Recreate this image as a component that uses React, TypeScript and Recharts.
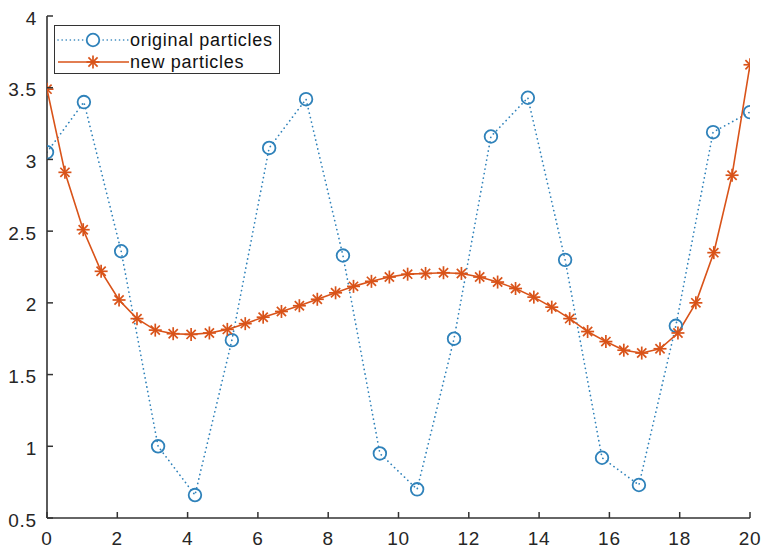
import React from 'react';
import { ComposedChart, Line, XAxis, YAxis, Legend } from 'recharts';

// ---- data ----
const ORIG_X = [0, 1.05, 2.11, 3.16, 4.21, 5.26, 6.32, 7.37, 8.42, 9.47, 10.53, 11.58, 12.63, 13.68, 14.74, 15.79, 16.84, 17.89, 18.95, 20];
const ORIG_Y = [3.05, 3.4, 2.36, 1.0, 0.66, 1.74, 3.08, 3.42, 2.33, 0.95, 0.7, 1.75, 3.16, 3.43, 2.3, 0.92, 0.73, 1.84, 3.19, 3.33];

const NEW_X = [0, 0.51, 1.03, 1.54, 2.05, 2.56, 3.08, 3.59, 4.1, 4.62, 5.13, 5.64, 6.15, 6.67, 7.18, 7.69, 8.21, 8.72, 9.23, 9.74, 10.26, 10.77, 11.28, 11.79, 12.31, 12.82, 13.33, 13.85, 14.36, 14.87, 15.38, 15.9, 16.41, 16.92, 17.44, 17.95, 18.46, 18.97, 19.49, 20];
const NEW_Y = [3.49, 2.91, 2.51, 2.22, 2.02, 1.89, 1.81, 1.785, 1.78, 1.79, 1.815, 1.855, 1.9, 1.94, 1.98, 2.025, 2.07, 2.115, 2.15, 2.18, 2.2, 2.205, 2.21, 2.205, 2.18, 2.145, 2.1, 2.04, 1.97, 1.89, 1.8, 1.73, 1.67, 1.65, 1.68, 1.79, 2.0, 2.35, 2.89, 3.66];

const X_TICKS = [0, 2, 4, 6, 8, 10, 12, 14, 16, 18, 20];
const Y_TICKS = [0.5, 1, 1.5, 2, 2.5, 3, 3.5, 4];
const SERIES_NAMES = ['original particles', 'new particles'];

// ---- styles ----
const BLUE = '#2f82ba';
const ORANGE = '#d95319';
const AXIS = '#333333';
const FONT = '"Liberation Sans", Arial, sans-serif';

const origData = ORIG_X.map((x, i) => ({ x, y: ORIG_Y[i] }));
const newData = NEW_X.map((x, i) => ({ x, y: NEW_Y[i] }));

const CircleDot = (props: any) => {
  const { cx, cy, index } = props;
  if (cx == null || cy == null) return <g key={`oe-${index}`} />;
  return <circle key={`o-${index}`} cx={cx} cy={cy} r={6.3} fill="none" stroke={BLUE} strokeWidth={1.8} />;
};

const starShape = (cx: number, cy: number, s: number, key: string) => {
  const d = s * 0.707;
  return (
    <g key={key} stroke={ORANGE} strokeWidth={1.7}>
      <line x1={cx - s} y1={cy} x2={cx + s} y2={cy} />
      <line x1={cx} y1={cy - s} x2={cx} y2={cy + s} />
      <line x1={cx - d} y1={cy - d} x2={cx + d} y2={cy + d} />
      <line x1={cx - d} y1={cy + d} x2={cx + d} y2={cy - d} />
    </g>
  );
};

const StarDot = (props: any) => {
  const { cx, cy, index } = props;
  if (cx == null || cy == null) return <g key={`se-${index}`} />;
  return starShape(cx, cy, 6.5, `s-${index}`);
};

const BottomTick = (props: any) => {
  const { x, y, payload } = props;
  return (
    <g>
      <line x1={x} x2={x} y1={y} y2={y - 6} stroke={AXIS} strokeWidth={1.5} />
      <text x={x} y={y + 27} textAnchor="middle" fill="#262626" fontSize={19} fontFamily={FONT} letterSpacing={0.8}>
        {payload.value}
      </text>
    </g>
  );
};

const TopTick = (props: any) => {
  const { x, y } = props;
  return <line x1={x} x2={x} y1={y} y2={y + 6} stroke={AXIS} strokeWidth={1.5} />;
};

const LeftTick = (props: any) => {
  const { x, y, payload } = props;
  return (
    <g>
      <line x1={x} x2={x + 6} y1={y} y2={y} stroke={AXIS} strokeWidth={1.5} />
      <text x={x - 10} y={y + 8.5} textAnchor="end" fill="#262626" fontSize={19} fontFamily={FONT} letterSpacing={0.8}>
        {payload.value}
      </text>
    </g>
  );
};

const RightTick = (props: any) => {
  const { x, y } = props;
  return <line x1={x} x2={x - 6} y1={y} y2={y} stroke={AXIS} strokeWidth={1.5} />;
};

const LegendBox = () => (
  <div style={{ width: 226, height: 49, border: `1.5px solid ${AXIS}`, background: '#fff', boxSizing: 'border-box' }}>
    <svg width={223} height={46} style={{ display: 'block' }}>
      <line x1={3} x2={74} y1={14} y2={14} stroke={BLUE} strokeWidth={1.6} strokeDasharray="0.1 4" strokeLinecap="round" />
      <circle cx={38} cy={14} r={6.3} fill="#fff" stroke={BLUE} strokeWidth={1.8} />
      <text x={75} y={20} fontSize={18} fontFamily={FONT} letterSpacing={0.7} fill="#111">{SERIES_NAMES[0]}</text>
      <line x1={3} x2={74} y1={36} y2={36} stroke={ORANGE} strokeWidth={1.5} />
      {starShape(38, 36, 6.5, 'legend-star')}
      <text x={75} y={42} fontSize={18} fontFamily={FONT} letterSpacing={0.7} fill="#111">{SERIES_NAMES[1]}</text>
    </svg>
  </div>
);

export default function App() {
  return (
    <div style={{ position: 'absolute', left: 0, top: 0, width: 763, height: 549, background: '#fff' }}>
      <ComposedChart width={763} height={549} margin={{ top: 16, right: 13, left: 0, bottom: 0 }}>
        <XAxis
          xAxisId="b"
          dataKey="x"
          type="number"
          domain={[0, 20]}
          ticks={X_TICKS}
          allowDataOverflow
          height={31}
          tickSize={0}
          tickMargin={0}
          tickLine={false}
          axisLine={{ stroke: AXIS, strokeWidth: 1.6 }}
          tick={<BottomTick />}
          interval={0}
        />
        <XAxis
          xAxisId="t"
          orientation="top"
          dataKey="x"
          type="number"
          domain={[0, 20]}
          ticks={X_TICKS}
          allowDataOverflow
          height={0}
          tickSize={0}
          tickMargin={0}
          tickLine={false}
          axisLine={{ stroke: AXIS, strokeWidth: 1.6 }}
          tick={<TopTick />}
          interval={0}
        />
        <YAxis
          yAxisId="l"
          type="number"
          domain={[0.5, 4]}
          ticks={Y_TICKS}
          allowDataOverflow
          width={47}
          tickSize={0}
          tickMargin={0}
          tickLine={false}
          axisLine={{ stroke: AXIS, strokeWidth: 1.6 }}
          tick={<LeftTick />}
          interval={0}
        />
        <YAxis
          yAxisId="r"
          orientation="right"
          type="number"
          domain={[0.5, 4]}
          ticks={Y_TICKS}
          allowDataOverflow
          width={0}
          tickSize={0}
          tickMargin={0}
          tickLine={false}
          axisLine={{ stroke: AXIS, strokeWidth: 1.6 }}
          tick={<RightTick />}
          interval={0}
        />
        <Line
          xAxisId="b"
          yAxisId="l"
          data={origData}
          dataKey="y"
          name={SERIES_NAMES[0]}
          type="linear"
          stroke={BLUE}
          strokeWidth={1.7}
          strokeDasharray="0.1 4.5"
          strokeLinecap="round"
          dot={CircleDot}
          activeDot={false}
          isAnimationActive={false}
        />
        <Line
          xAxisId="b"
          yAxisId="l"
          data={newData}
          dataKey="y"
          name={SERIES_NAMES[1]}
          type="linear"
          stroke={ORANGE}
          strokeWidth={1.6}
          dot={StarDot}
          activeDot={false}
          isAnimationActive={false}
        />
        <Legend
          layout="vertical"
          align="center"
          verticalAlign="middle"
          content={<LegendBox />}
          wrapperStyle={{ position: 'absolute', left: 54, top: 25, width: 226, height: 49 }}
        />
      </ComposedChart>
    </div>
  );
}
